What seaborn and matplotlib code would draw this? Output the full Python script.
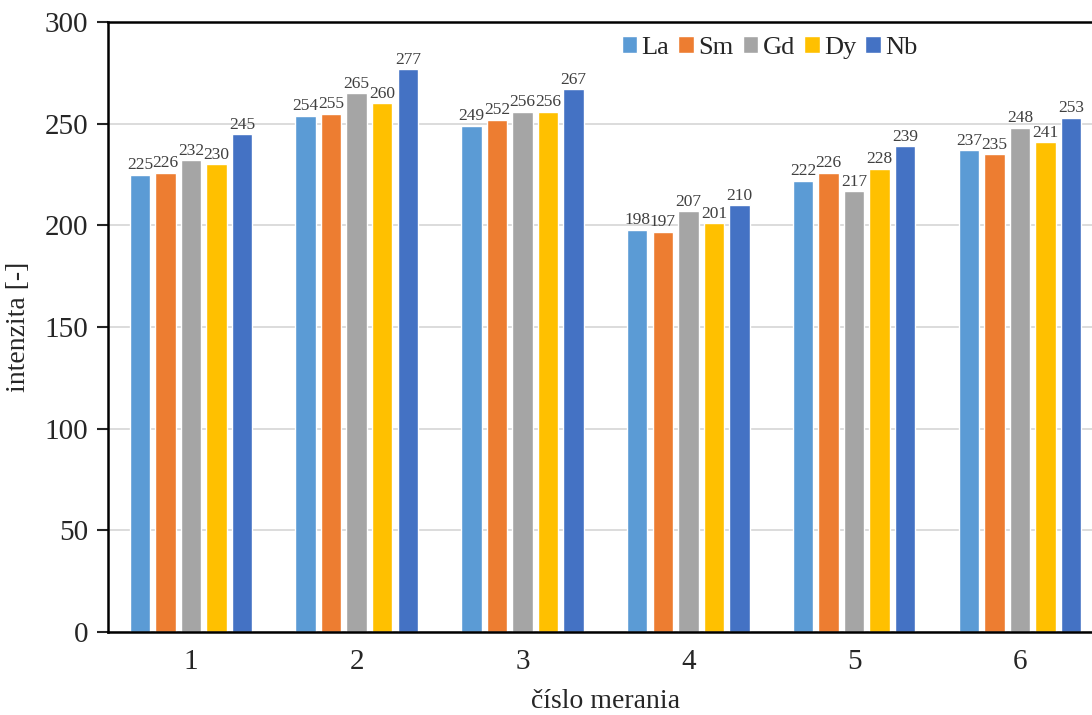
import numpy as np
import pandas as pd
import matplotlib
matplotlib.use("Agg")
import matplotlib.pyplot as plt
import seaborn as sns

merania = ["1", "2", "3", "4", "5", "6"]
prvky = ["La", "Sm", "Gd", "Dy", "Nb"]
la = [225, 254, 249, 198, 222, 237]
sm = [226, 255, 252, 197, 226, 235]
gd = [232, 265, 256, 207, 217, 248]
dy = [230, 260, 256, 201, 228, 241]
nb = [245, 277, 267, 210, 239, 253]
farby = ["#5B9BD5", "#ED7D31", "#A5A5A5", "#FFC000", "#4472C4"]

rows = []
for prvok, vals in zip(prvky, [la, sm, gd, dy, nb]):
    for m, v in zip(merania, vals):
        rows.append({"meranie": m, "prvok": prvok, "intenzita": v})
df = pd.DataFrame(rows)

sns.set_style("white")
plt.rcParams["font.family"] = ["Liberation Serif", "DejaVu Serif"]

fig = plt.figure(figsize=(10.92, 7.15), dpi=100)
ax = fig.add_axes([0.0989, 0.116, 0.911, 0.853])

sns.barplot(data=df, x="meranie", y="intenzita", hue="prvok", order=merania,
            hue_order=prvky, palette=farby, width=0.77, gap=0.2, ax=ax,
            saturation=1, errorbar=None, zorder=3)

for cont in ax.containers:
    ax.bar_label(cont, fontsize=12.5, padding=1, color="#404040")

ax.set_ylim(0, 300)
ax.set_xlim(-0.5, 5.5)
ax.set_yticks(np.arange(0, 301, 50))
ax.yaxis.grid(True, color="#D9D9D9", lw=1.3, zorder=0)
ax.set_axisbelow(True)

for s in ["left", "bottom", "top"]:
    ax.spines[s].set_color("black")
    ax.spines[s].set_linewidth(1.8)
    ax.spines[s].set_zorder(4)
ax.spines["right"].set_visible(False)

ax.tick_params(axis="y", length=8, width=1.5, direction="out", labelsize=21, left=True, pad=6)
ax.tick_params(axis="x", length=0, labelsize=21, pad=12)

ax.set_xlabel("číslo merania", fontsize=20, labelpad=10)
ax.set_ylabel("intenzita [-]", fontsize=20, labelpad=10)

ax.legend(loc="upper center", bbox_to_anchor=(0.665, 1.003), ncol=5, frameon=False,
          fontsize=19, handlelength=0.6, handleheight=0.6, handletextpad=0.15,
          columnspacing=0.35, borderaxespad=0.2)

fig.savefig("out.png", dpi=100)
